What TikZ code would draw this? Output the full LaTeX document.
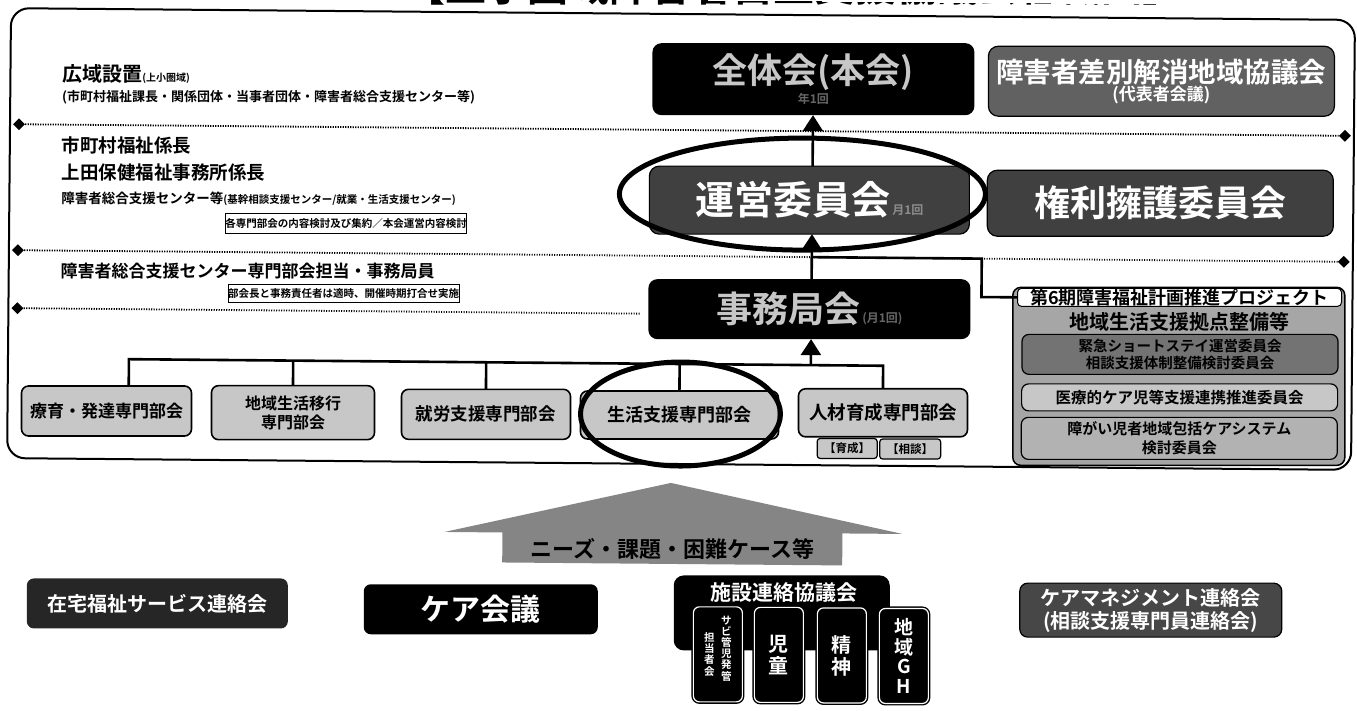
\documentclass[tikz,border=0pt]{standalone}
\usepackage{fontspec}
\setmainfont{Noto Sans CJK JP}[BoldFont={Noto Sans CJK JP Bold}]
\usetikzlibrary{shapes.geometric,arrows.meta}
\newcommand\myfs[2]{\fontsize{#1}{#2}\selectfont}
\tikzset{
 base/.style={inner sep=0pt, outer sep=0pt, align=center, font=\bfseries},
 blk/.style={base, fill=black, rounded corners=9, text=white!78!black},
 dk/.style={base, fill=black!75, draw=black, line width=1.2, rounded corners=10, text=white},
 mid/.style={base, fill=black!62, draw=black, line width=1.2, rounded corners=10, text=white},
 bukai/.style={base, fill=black!22, draw=black, line width=1.6, rounded corners=7},
 note/.style={base, draw=black, line width=1, fill=white},
 conn/.style={line width=2.6},
 uparrow/.style={line width=2.6, -{Triangle[width=20pt,length=16pt]}},
 dotl/.style={line width=1.8, dash pattern=on 1.2pt off 1.3pt},
 dia/.style={diamond, fill=black, minimum width=12pt, minimum height=12pt, inner sep=0pt},
 circ/.style={ellipse, draw=black, line width=5, inner sep=0pt},
 vbox/.style={base, fill=black, draw=white, line width=1.2, rounded corners=6, preaction={draw=black, line width=4}},
 ltxt/.style={base, anchor=west},
 psub/.style={base, draw=black, line width=1.2, rounded corners=7, minimum width=316},
}
\begin{document}
\begin{tikzpicture}[x=1pt,y=-1pt]
\fill[white] (0,0) rectangle (1357,711);
\useasboundingbox (0,0) rectangle (1357,711);
\begin{scope}[rotate around={-0.5:(678,355)}]
% title (cropped by the page edge)
\begin{scope}
\clip (0,0) rectangle (1357,711);
\node[base, anchor=base west, font=\bfseries\myfs{41}{41}] (title) at (401,4) {【上小圏域障害者自立支援協議会組織図】};
\end{scope}
% outer frame
\draw[line width=2, rounded corners=18] (8,14) rectangle (1352,464);
% dotted separators
\node[dia] (d1l) at (17,130) {};
\node[dia] (d1r) at (1343,130) {};
\node[dia] (d2l) at (17,256) {};
\node[dia] (d2r) at (1343,256) {};
\node[dia] (d3l) at (17,314) {};
\coordinate (d3e) at (640,314);
\draw[dotl] (d1l) -- (d1r);
\draw[dotl] (d2l) -- (d2r);
\draw[dotl] (d3l) -- (d3e);
% left texts
\node[ltxt, font=\bfseries\myfs{20}{20}] (kouiki) at (60,79) {広域設置{\myfs{10}{10}(上小圏域)}};
\node[ltxt, font=\bfseries\myfs{13}{13}] (kacho) at (60,103) {(市町村福祉課長・関係団体・当事者団体・障害者総合支援センター等)};
\node[ltxt, font=\bfseries\myfs{18.5}{18.5}] (kakari) at (60,151) {市町村福祉係長};
\node[ltxt, font=\bfseries\myfs{18.5}{18.5}] (ueda) at (60,178) {上田保健福祉事務所係長};
\node[ltxt, font=\bfseries\myfs{13.5}{13.5}] (center) at (60,204) {障害者総合支援センター等{\myfs{10.5}{10.5}(基幹相談支援センター/就業・生活支援センター)}};
\node[note, font=\bfseries\myfs{10.5}{10.5}, minimum width=234, minimum height=20] (note1) at (345,226) {各専門部会の内容検討及び集約／本会運営内容検討};
\node[ltxt, font=\bfseries\myfs{17}{17}] (tanto) at (60,276) {障害者総合支援センター専門部会担当・事務局員};
\node[note, font=\bfseries\myfs{10.5}{10.5}, minimum width=230, minimum height=18] (note2) at (343,296) {部会長と事務責任者は適時、開催時期打合せ実施};
% top boxes
\node[blk, minimum width=322, minimum height=72] (zentai) at (811,78) {{\myfs{35}{37}全体会(本会)}\\[1pt]{\myfs{12}{12}\color{black!60}年1回}};
\node[mid, minimum width=346, minimum height=70] (sabetsu) at (1159,77) {{\myfs{27.5}{30}障害者差別解消地域協議会}\\{\myfs{17}{19}(代表者会議)}};
\node[dk, minimum width=320, minimum height=68] (unei) at (808,199) {{\myfs{39}{39}運営委員会}{\myfs{12}{12}\color{black!45}\,月1回}};
\node[dk, minimum width=346, minimum height=66] (kenri) at (1159,199) {\myfs{36}{36}権利擁護委員会};
\node[blk, minimum width=322, minimum height=60] (jimu) at (809,308) {{\myfs{36}{36}事務局会}{\myfs{12}{12}\color{black!60}\,(月1回)}};
\node[circ, minimum width=366, minimum height=112] (ell1) at (801,193) {};
% project box
\node[base, fill=black!35, draw=black, line width=1.5, rounded corners=8, minimum width=332, minimum height=178] (proj) at (1179,372) {};
\node[note, rounded corners=4, font=\bfseries\myfs{18}{18}, minimum width=324, minimum height=18] (projhead) at (1179,293) {第6期障害福祉計画推進プロジェクト};
\node[base, font=\bfseries\myfs{20}{20}] (kyoten) at (1179,317) {地域生活支援拠点整備等};
\node[psub, fill=black!55, minimum height=40, font=\bfseries\myfs{14.5}{17}] (sub1) at (1180,350) {緊急ショートステイ運営委員会\\相談支援体制整備検討委員会};
\node[psub, fill=black!22, minimum height=27, font=\bfseries\myfs{15.5}{15.5}] (sub2) at (1180,393) {医療的ケア児等支援連携推進委員会};
\node[psub, fill=black!30, minimum height=42, font=\bfseries\myfs{15}{19}] (sub3) at (1180,434) {障がい児者地域包括ケアシステム\\検討委員会};
% bukai row
\node[bukai, minimum width=170, minimum height=50, font=\bfseries\myfs{17}{17}] (b1) at (107,416) {療育・発達専門部会};
\node[bukai, minimum width=163, minimum height=54, font=\bfseries\myfs{16}{19}] (b2) at (293.5,416) {地域生活移行\\専門部会};
\node[bukai, minimum width=169, minimum height=50, font=\bfseries\myfs{17.5}{17.5}] (b3) at (486.5,416) {就労支援専門部会};
\node[bukai, minimum width=198, minimum height=48, font=\bfseries\myfs{18}{18}] (b4) at (680,415) {生活支援専門部会};
\node[bukai, minimum width=169, minimum height=48, font=\bfseries\myfs{18.5}{18.5}] (b5) at (883.5,411) {人材育成専門部会};
\node[bukai, line width=1.2, rounded corners=3, minimum width=60, minimum height=20, font=\bfseries\myfs{11.5}{11.5}] (s1) at (848,447) {【育成】};
\node[bukai, line width=1.2, rounded corners=3, minimum width=61, minimum height=20, font=\bfseries\myfs{11.5}{11.5}] (s2) at (911,447) {【相談】};
\node[circ, minimum width=200, minimum height=104] (ell2) at (681,414) {};
% connectors
\coordinate (ax) at (811,0);
\coordinate (bar) at (0,364);
\coordinate (bend) at (981,256);
\coordinate (dr1) at (129,0);
\draw[uparrow] (unei.north -| ax) -- (zentai.south -| ax);
\draw[uparrow] (jimu.north -| ax) -- (unei.south -| ax);
\draw[conn] (ax |- d2l) -- (bend) |- (projhead.west);
\draw[conn] (b1.north -| dr1) -- (dr1 |- bar) -- (b5.north |- bar) -- (b5.north);
\draw[conn] (b2.north) -- (b2.north |- bar);
\draw[conn] (b3.north) -- (b3.north |- bar);
\draw[conn] (b4.north) -- (b4.north |- bar);
\draw[uparrow] (ax |- bar) -- (jimu.south -| ax);
% big upward arrow
\fill[black!48] (672,483) -- (904,532) -- (844,532) -- (844,564) -- (504,564) -- (504,534) -- (446,534) -- cycle;
\node[base, font=\bfseries\myfs{22}{22}] (needs) at (674,549) {ニーズ・課題・困難ケース等};
% bottom row
\node[blk, fill=black!85, rounded corners=7, text=white, minimum width=261, minimum height=50, font=\bfseries\myfs{20}{20}] (zaitaku) at (159.5,608) {在宅福祉サービス連絡会};
\node[blk, rounded corners=7, text=white, minimum width=234, minimum height=50, font=\bfseries\myfs{30}{30}] (care) at (483,611) {ケア会議};
\node[blk, rounded corners=10, minimum width=216, minimum height=75] (shisetsu) at (784,612) {};
\node[base, text=white, font=\bfseries\myfs{21}{21}] (shisetsuT) at (786,592) {施設連絡協議会};
\node[vbox, minimum width=49, minimum height=95] (v1) at (720.5,654) {};
\node[base, text=white, font=\bfseries\myfs{10.5}{11.2}] (v1a) at (729,648) {サ\\ビ\\管\\児\\発\\管};
\node[base, text=white, font=\bfseries\myfs{10.5}{11.2}] (v1b) at (712,654) {担\\当\\者\\会};
\node[vbox, minimum width=49, minimum height=95, text=white, font=\bfseries\myfs{20}{22}] (v2) at (781.5,654) {児\\童};
\node[vbox, minimum width=49, minimum height=95, text=white, font=\bfseries\myfs{20}{22}] (v3) at (844.5,654) {精\\神};
\node[vbox, minimum width=49, minimum height=95, text=white, font=\bfseries\myfs{19}{19.5}] (v4) at (906.5,654) {地\\域\\G\\H};
\node[mid, fill=black!72, rounded corners=8, minimum width=262, minimum height=54, font=\bfseries\myfs{20}{23}] (caremane) at (1153,606) {ケアマネジメント連絡会\\(相談支援専門員連絡会)};
\end{scope}
\end{tikzpicture}
\end{document}
